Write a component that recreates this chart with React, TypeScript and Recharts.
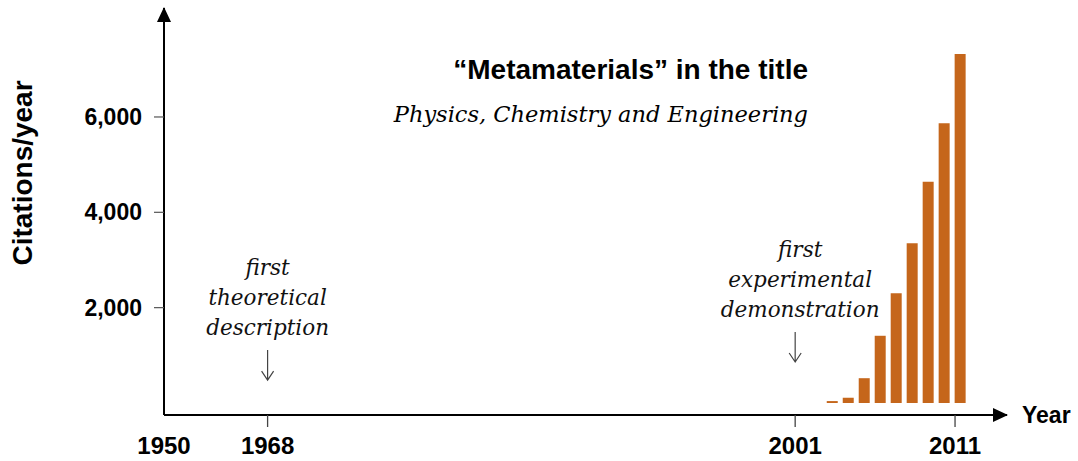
import { BarChart, Bar, XAxis, YAxis, ReferenceDot } from "recharts";

// citations per year for papers with "metamaterials" in the title
const years = [2003, 2004, 2005, 2006, 2007, 2008, 2009, 2010, 2011];
const citations = [40, 110, 520, 1410, 2300, 3350, 4640, 5870, 7320];

const xTickYears = [1950, 1968, 2001, 2011];
const yTicks = [2000, 4000, 6000];

const noteYears = [1968, 2001];
const noteTexts = [
  ["first", "theoretical", "description"],
  ["first", "experimental", "demonstration"],
];
// citation level the annotation arrows point down to
const noteArrowTips = [480, 860];

// the years before 1968 are squeezed together (broken axis)
const BREAK_YEAR = 1968;
const SQUEEZE = 0.36;
const toAxis = (year: number) =>
  year < BREAK_YEAR ? BREAK_YEAR - (BREAK_YEAR - year) * SQUEEZE : year;
const fromAxis = (v: number) =>
  v < BREAK_YEAR ? Math.round(BREAK_YEAR - (BREAK_YEAR - v) / SQUEEZE) : Math.round(v);

const X_MIN = toAxis(1950);
const X_MAX = 2014.25;
const BAR_POS = 0.35; // where inside its year a bar sits

const data = years.map((y, i) => ({ x: y + BAR_POS, value: citations[i] }));

const SANS = '"Liberation Sans", Arial, sans-serif';
const SERIF = '"DejaVu Serif", serif';
const ORANGE = "#C5661B";

const YearTick = (props: any) => {
  const { x, y, payload } = props;
  const isOrigin = Math.abs(payload.value - X_MIN) < 0.01;
  return (
    <g>
      {!isOrigin && (
        <line x1={x} y1={y - 12} x2={x} y2={y} stroke="#444" strokeWidth={1.3} />
      )}
      <text
        x={x}
        y={y + 27}
        textAnchor="middle"
        fontFamily={SANS}
        fontWeight={700}
        fontSize={24}
        fill="#000"
      >
        {fromAxis(payload.value)}
      </text>
    </g>
  );
};

const NoteMark = ({ cx, cy, lines, dx }: any) => {
  if (cx == null || cy == null) return null;
  const last = cy - 45;
  return (
    <g>
      {lines.map((t: string, i: number) => (
        <text
          key={t}
          x={cx + dx}
          y={last - (lines.length - 1 - i) * 30}
          textAnchor="middle"
          fontFamily={SERIF}
          fontStyle="italic"
          fontSize={21.5}
          fill="#111"
        >
          {t}
        </text>
      ))}
      <path
        d={`M${cx},${cy - 30} L${cx},${cy} M${cx - 6},${cy - 9} L${cx},${cy} L${cx + 6},${cy - 9}`}
        stroke="#444"
        strokeWidth={1.2}
        fill="none"
      />
    </g>
  );
};

const noteShift = [0, 5];

export default function App() {
  return (
    <div style={{ position: "absolute", left: 0, top: 0, width: 1078, height: 461, background: "#fff" }}>
      <BarChart
        width={1078}
        height={461}
        data={data}
        margin={{ top: 8, right: 71, bottom: 0, left: 0 }}
      >
        <defs>
          <marker
            id="axisArrow"
            viewBox="0 0 15 14"
            refX={14}
            refY={7}
            markerWidth={15}
            markerHeight={14}
            markerUnits="userSpaceOnUse"
            orient="auto-start-reverse"
          >
            <path d="M0,0 L15,7 L0,14 z" fill="#000" />
          </marker>
        </defs>
        <XAxis
          type="number"
          dataKey="x"
          domain={[X_MIN, X_MAX]}
          ticks={xTickYears.map(toAxis)}
          interval={0}
          allowDataOverflow
          height={46}
          tickLine={false}
          tickSize={12}
          tickMargin={0}
          axisLine={{ stroke: "#000", strokeWidth: 2, markerEnd: "url(#axisArrow)" }}
          tick={<YearTick />}
        />
        <YAxis
          width={164}
          domain={[-252, 8286]}
          ticks={yTicks}
          interval={0}
          allowDataOverflow
          tickSize={10}
          tickMargin={12}
          tickLine={{ stroke: "#555", strokeWidth: 1.2 }}
          axisLine={{ stroke: "#000", strokeWidth: 2, markerStart: "url(#axisArrow)" }}
          tick={{ fill: "#000", fontSize: 23, fontWeight: 700, fontFamily: SANS }}
          tickFormatter={(v: number) => v.toLocaleString("en-US")}
        />
        <Bar dataKey="value" fill={ORANGE} barSize={11} isAnimationActive={false} />
        {noteYears.map((yr, i) => (
          <ReferenceDot
            key={yr}
            x={yr}
            y={noteArrowTips[i]}
            r={0}
            shape={(p: any) => <NoteMark {...p} lines={noteTexts[i]} dx={noteShift[i]} />}
          />
        ))}
        <text x={808} y={79} textAnchor="end" fontFamily={SANS} fontWeight={700} fontSize={28} fill="#000">
          “Metamaterials” in the title
        </text>
        <text x={808} y={122} textAnchor="end" fontFamily={SERIF} fontStyle="italic" fontSize={22.5} fill="#000">
          Physics, Chemistry and Engineering
        </text>
        <text
          x={32}
          y={173}
          transform="rotate(-90, 32, 173)"
          textAnchor="middle"
          fontFamily={SANS}
          fontWeight={700}
          fontSize={28}
          fill="#000"
        >
          Citations/year
        </text>
        <text x={1022} y={423} fontFamily={SANS} fontWeight={700} fontSize={23} fill="#000">
          Year
        </text>
      </BarChart>
    </div>
  );
}
